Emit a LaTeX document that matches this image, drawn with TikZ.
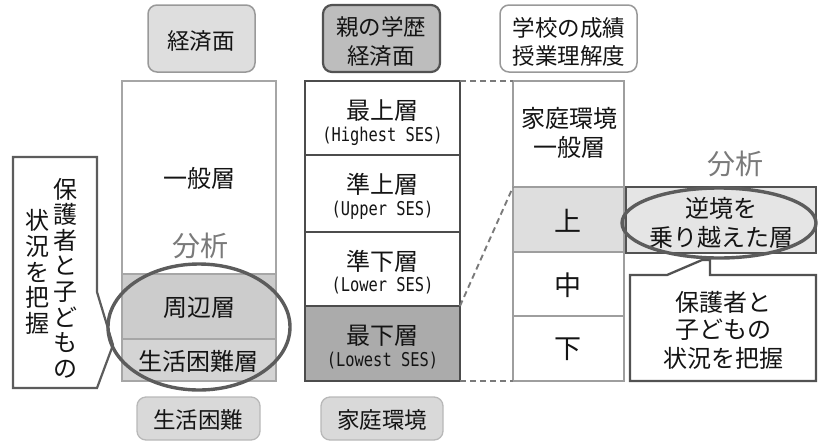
\documentclass[tikz,border=0pt]{standalone}
\usepackage{fontspec}
\newfontfamily\jpf{Noto Sans CJK JP}
\newfontfamily\sesf[FakeStretch=0.81]{DejaVu Sans Mono}
\usetikzlibrary{shapes.geometric}
\begin{document}
\begin{tikzpicture}[x=1pt,y=-1pt,
  every node/.style={font=\jpf\fontsize{24}{28}\selectfont, text=black!92},
  lbl/.style={inner sep=0pt, outer sep=0pt, align=center},
  seslbl/.style={lbl, font=\sesf\fontsize{19}{22}\selectfont},
  hdrtxt/.style={lbl, font=\jpf\fontsize{22.5}{29}\selectfont},
  bunseki/.style={lbl, font=\jpf\fontsize{28}{30}\selectfont, text=black!52},
  cellbase/.style={draw, anchor=north west, inner sep=0pt, outer sep=0pt},
  lcell/.style={cellbase, draw=black!35, line width=1.6pt, minimum width=154pt},
  mcell/.style={cellbase, draw=black!70, line width=2.6pt, minimum width=155pt},
  rcell/.style={cellbase, draw=black!38, line width=1.9pt, minimum width=111pt},
  tagbox/.style={cellbase, rounded corners=9pt},
  footbox/.style={tagbox, fill=black!15, draw=black!28, line width=1.3pt, minimum height=43pt},
  oval/.style={draw=black!64, line width=3.4pt, ellipse, inner sep=0pt},
  linkdash/.style={draw=black!52, line width=1.9pt, dash pattern=on 6pt off 4pt},
  calloutL/.style={draw=black!64, line width=2.2pt, fill=white, line join=miter},
  calloutR/.style={draw=black!68, line width=2.3pt, fill=white, line join=miter}
]
\useasboundingbox (0,0) rectangle (818,445);

% ---------- headers ----------
\node[tagbox, fill=black!13, draw=black!40, line width=1.5pt, minimum width=107pt, minimum height=67pt] (hL) at (148,5) {};
\node[hdrtxt] (hLt) at (201,41) {経済面};
\node[tagbox, fill=black!26, draw=black!68, line width=2.2pt, minimum width=117pt, minimum height=67pt] (hM) at (323,5) {};
\node[hdrtxt] (hMt1) at (381,27) {親の学歴};
\node[hdrtxt] (hMt2) at (381,56) {経済面};
\node[tagbox, fill=white, draw=black!40, line width=1.5pt, minimum width=137pt, minimum height=67pt] (hR) at (500,5) {};
\node[hdrtxt] (hRt1) at (569,28) {学校の成績};
\node[hdrtxt] (hRt2) at (569,56) {授業理解度};

% ---------- left column ----------
\node[lcell, fill=white, minimum height=193pt] (l1) at (122,81) {};
\node[lcell, fill=black!20, minimum height=65pt] (l2) at (122,274) {};
\node[lcell, fill=black!17, minimum height=42pt] (l3) at (122,339) {};
\node[lbl] (l1t) at (199,178) {一般層};
\node[bunseki] (anaL) at (200,246) {分析};
\node[lbl] (l2t) at (199,308) {周辺層};
\node[lbl] (l3t) at (198,361) {生活困難層};

% ---------- middle column ----------
\node[mcell, fill=white, minimum height=74pt] (m1) at (305,81) {};
\node[mcell, fill=white, minimum height=77pt] (m2) at (305,155) {};
\node[mcell, fill=white, minimum height=74pt] (m3) at (305,232) {};
\node[mcell, fill=black!33, minimum height=75pt] (m4) at (305,306) {};
\node[lbl] (m1t) at (382.5,111) {最上層};
\node[seslbl] (m1e) at (382.5,136) {(Highest SES)};
\node[lbl] (m2t) at (382.5,184) {準上層};
\node[seslbl] (m2e) at (382.5,210) {(Upper SES)};
\node[lbl] (m3t) at (382.5,261) {準下層};
\node[seslbl] (m3e) at (382.5,286) {(Lower SES)};
\node[lbl] (m4t) at (382.5,336) {最下層};
\node[seslbl] (m4e) at (382.5,361) {(Lowest SES)};

% ---------- right column ----------
\node[rcell, fill=white, minimum height=106pt] (r1) at (513,81) {};
\node[rcell, fill=black!13, minimum height=65pt] (r2) at (513,187) {};
\node[rcell, fill=white, minimum height=64pt] (r3) at (513,252) {};
\node[rcell, fill=white, minimum height=65pt] (r4) at (513,316) {};
\node[lbl] (r1t1) at (569,118) {家庭環境};
\node[lbl] (r1t2) at (569,147) {一般層};
\node[lbl, font=\jpf\fontsize{27}{28}\selectfont] (r2t) at (568,221) {上};
\node[lbl, font=\jpf\fontsize{27}{28}\selectfont] (r3t) at (568,285) {中};
\node[lbl, font=\jpf\fontsize{27}{28}\selectfont] (r4t) at (568,349) {下};

% dashed links
\draw[linkdash] (m1.north east) -- (r1.north west);
\draw[linkdash] (m4.south east) -- (r4.south west);
\draw[linkdash] (m3.south east) -- (r2.north west);

% ---------- footers ----------
\node[footbox, minimum width=123pt] (fL) at (137,397) {};
\node[hdrtxt] (fLt) at (198,420) {生活困難};
\node[footbox, minimum width=122pt] (fM) at (321,397) {};
\node[hdrtxt] (fMt) at (382,420) {家庭環境};

% ---------- right analysis ----------
\node[bunseki] (anaR) at (735,164) {分析};
\node[cellbase, fill=black!10, draw=black!68, line width=2.4pt, minimum width=190pt, minimum height=66pt] (gyak) at (626,187) {};
\node[lbl] (gyt1) at (721,208) {逆境を};
\node[lbl] (gyt2) at (721,237) {乗り越えた層};

% callout right
\coordinate (cRa) at (630,275);
\coordinate (cRb) at (667,275);
\coordinate (cRtip1) at (702,260);
\coordinate (cRtip2) at (710,260);
\coordinate (cRc) at (710,275);
\coordinate (cRd) at (816,275);
\coordinate (cRe) at (816,381);
\coordinate (cRf) at (630,381);
\draw[calloutR] (cRa) -- (cRb) -- (cRtip1) -- (cRtip2) -- (cRc) -- (cRd) -- (cRe) -- (cRf) -- cycle;
\node[lbl] (cRt1) at (723,302) {保護者と};
\node[lbl] (cRt2) at (723,330) {子どもの};
\node[lbl] (cRt3) at (723,358) {状況を把握};

% callout left
\coordinate (cLa) at (13,157);
\coordinate (cLb) at (97,157);
\coordinate (cLc) at (97,292);
\coordinate (cLtip) at (113,345);
\coordinate (cLd) at (97,388);
\coordinate (cLe) at (13,388);
\draw[calloutL] (cLa) -- (cLb) -- (cLc) -- (cLtip) -- (cLd) -- (cLe) -- cycle;
\node[lbl, font=\jpf\fontsize{24}{25.6}\selectfont] (cLt1) at (65,278) {保\\護\\者\\と\\子\\ど\\も\\の};
\node[lbl, font=\jpf\fontsize{24}{25.6}\selectfont] (cLt2) at (37,272) {状\\況\\を\\把\\握};

% ovals
\node[oval, minimum width=182pt, minimum height=126pt] (ovL) at (199,327) {};
\node[oval, minimum width=194pt, minimum height=70pt] (ovR) at (719,223) {};
\end{tikzpicture}
\end{document}
